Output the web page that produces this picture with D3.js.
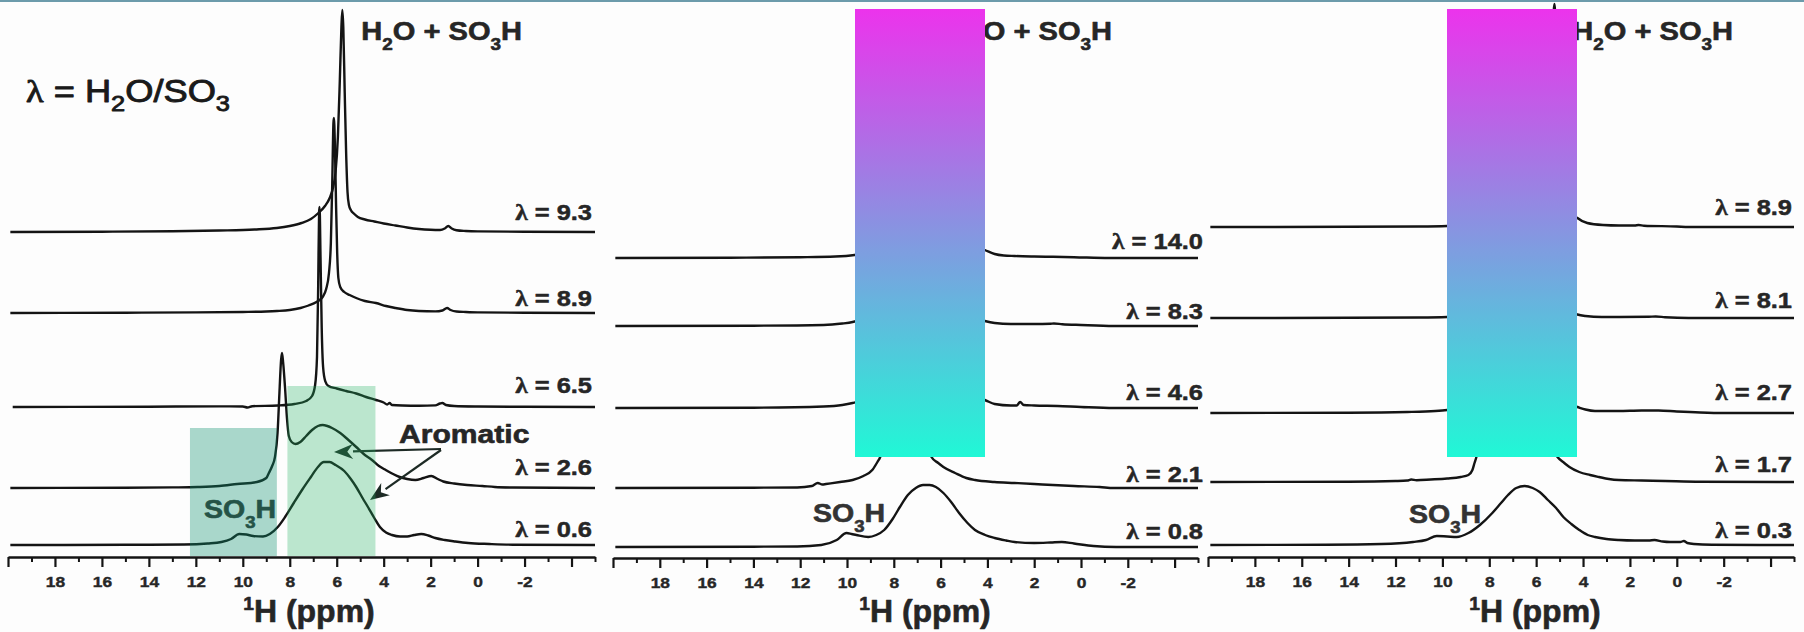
<!DOCTYPE html>
<html><head><meta charset="utf-8">
<script src="https://cdn.jsdelivr.net/npm/d3@7"></script>
<style>html,body{margin:0;padding:0;background:#fff;}svg{display:block}</style>
</head><body><svg id="c" width="1804" height="632"></svg>
<script>
// ================= DATA =================
const majorTicks = [20,18,16,14,12,10,8,6,4,2,0,-2,-4];
const tickLabels = ["","18","16","14","12","10","8","6","4","2","0","-2",""];
const minorTicks = [19,17,15,13,11,9,7,5,3,1,-1,-3,-5];

// Panel 1 : lambda labels, stacking offsets, spectra [ppm, intensity]
const lambdas1 = ["9.3","8.9","6.5","2.6","0.6"];
const offsets1 = [325,244,150,69,12];
const p1_93 = [[19.9,0],[16,0.3],[13,0.8],[11,1.5],[9.5,2.5],[8.55,4],[8,6],[7.5,9],[7.1,13],[6.78,19],[6.5,26],[6.3,34],[6.15,45],[6.05,60],[5.95,95],[5.87,150],[5.8,205],[5.76,222],[5.72,205],[5.66,140],[5.6,80],[5.54,40],[5.48,27],[5.4,22],[5.25,18],[5.1,15],[4.8,12.5],[4.4,10.5],[4,8.5],[3.5,6.5],[3,4.5],[2.5,3],[2,2.2],[1.6,2],[1.4,3.5],[1.25,6],[1.1,3.5],[0.9,1.8],[0.5,1],[0,0.6],[-2,0.3],[-5,0]];
const p1_89 = [[19.9,0],[15,0.3],[12,0.6],[10,1],[9,1.5],[8.55,2],[8,3],[7.54,5],[7.2,7.5],[6.86,11],[6.6,16],[6.45,24],[6.33,40],[6.25,70],[6.19,130],[6.14,190],[6.12,195],[6.08,170],[6.03,110],[5.98,60],[5.93,35],[5.85,26],[5.68,21],[5.45,18],[5.17,15],[4.8,12],[4.33,10],[3.9,7],[3.49,5],[3,3],[2.5,2],[1.8,1.6],[1.5,2.5],[1.3,5],[1.15,3],[0.9,1.5],[0.5,1],[0,0.6],[-2,0.3],[-5,0]];
const p1_65 = [[19.8,0],[14,0.3],[11,0.6],[10,0.5],[9.8,-0.5],[9.6,0.8],[8.5,1.5],[7.8,3],[7.3,6],[7.05,11],[6.92,22],[6.84,50],[6.79,120],[6.75,195],[6.73,200],[6.69,150],[6.64,80],[6.58,40],[6.49,26],[6.35,21],[6,18.5],[5.6,16],[5.17,13.5],[4.75,10],[4.33,7],[4,4.5],[3.85,2.5],[3.75,4],[3.65,2],[3.2,1.5],[2.5,1.3],[1.8,1.6],[1.6,3.5],[1.5,4],[1.35,2],[1,1],[0,0.5],[-2,0.2],[-5,0]];
const p1_26 = [[19.9,0],[15,0.3],[13,0.6],[11.92,1],[11,2],[10.24,4],[9.4,6],[9,10],[8.89,15],[8.75,22],[8.63,31],[8.52,55],[8.44,95],[8.37,128],[8.33,135],[8.28,125],[8.2,100],[8.12,70],[8.04,52],[7.92,46],[7.75,44],[7.55,46],[7.3,52],[7.05,58],[6.8,62],[6.6,63],[6.4,62],[6.2,60],[5.85,55],[5.5,48],[5.17,41],[4.85,34],[4.5,28],[4.2,22],[3.91,18],[3.6,14],[3.32,11],[3,9],[2.65,8],[2.3,10],[1.97,12],[1.7,9],[1.46,6.5],[1,4.5],[0.45,3],[-0.2,2],[-0.73,1],[-1.5,0.5],[-5,0]];
const p1_06 = [[19.9,0],[15,0.2],[12.5,0.5],[11.5,1.5],[10.91,3],[10.5,6],[10.15,11],[9.85,10.5],[9.56,9],[9.14,8.5],[8.85,11],[8.51,18],[8.2,28],[7.83,42],[7.45,56],[7.1,68],[6.8,78],[6.55,83],[6.3,83],[6.05,80],[5.68,74],[5.4,66],[5.17,58],[4.9,47],[4.67,38],[4.4,27],[4.16,18],[3.9,12.5],[3.65,10],[3.3,8.5],[3,8.5],[2.7,10],[2.4,11],[2.1,9.5],[1.8,7],[1.4,5],[0.95,3.5],[0.4,2],[-0.5,1],[-1.5,0.3],[-5,0]];

// Panel 2
const lambdas2 = ["14.0","8.3","4.6","2.1","0.8"];
const offsets2 = [300,232,150,70,11];
const p2_140 = [[19.9,0],[15,0.3],[12,0.8],[10.5,1.5],[9.68,3],[9.2,5],[8.5,9],[7.8,20],[7.2,60],[6.8,150],[6.5,220],[6.2,150],[5.8,60],[5.2,25],[4.6,12],[4.11,8],[3.69,4],[3.3,2.5],[2.84,2],[2,1.5],[1.2,1.2],[0.3,0.8],[-1.2,0],[-5,0]];
const p2_83 = [[19.9,0],[14,0.3],[11,1],[10.2,2.5],[9.76,4],[9.3,7],[8.5,15],[7.5,60],[7,160],[6.7,200],[6.4,150],[5.8,40],[5,15],[4.4,7],[4.11,5],[3.69,3],[3,2],[2,2],[1.3,2.3],[1.16,2.5],[0.8,1.8],[0,1],[-1.4,0],[-5,0]];
const p2_46 = [[19.9,0],[14,0.3],[11,1.5],[10.2,3],[9.76,5],[9.2,9],[8.5,20],[7.8,70],[7.4,200],[7.2,260],[7,200],[6.5,70],[5.6,25],[4.8,12],[4.11,8],[3.69,4],[3,2.5],[2.75,2.5],[2.6,6],[2.45,3],[2,2.5],[1,2],[0,1],[-1.4,0],[-5,0]];
const p2_21 = [[19.9,0],[14,0.3],[12.13,0.5],[11.5,2],[11.25,5],[11.05,3.5],[10.9,4],[10.3,6],[9.76,8],[9.3,12],[8.92,18],[8.7,26],[8.58,31],[8.3,60],[8,120],[7.6,200],[7.3,180],[7,100],[6.6,50],[6.39,31],[6.1,25],[5.88,21],[5.38,15],[4.9,10],[4.53,8],[3.7,6],[2.84,5],[2,4],[1.2,3],[0.3,2],[-0.8,1],[-1.4,0],[-5,0]];
const p2_08 = [[19.9,0],[14,0.3],[12.13,0.5],[11.1,2],[10.44,7],[10.02,14],[9.8,13],[9.6,12],[9.09,10],[8.75,12],[8.41,17],[8.05,28],[7.74,40],[7.4,52],[7.06,59],[6.75,62],[6.47,62],[6.2,60],[5.88,54],[5.55,45],[5.21,34],[4.85,24],[4.53,17],[4.1,12],[3.69,9],[3.2,6.5],[2.84,5],[2,4],[1.3,4.5],[0.82,5],[0.3,3.5],[-0.53,1],[-1.5,0],[-5,0]];

// Panel 3
const lambdas3 = ["8.9","8.1","2.7","1.7","0.3"];
const offsets3 = [330,239,144,75,12];
const p3_89 = [[19.9,0],[14,0.2],[11,0.5],[9.8,1],[8.5,3],[7,8],[6.2,20],[5.7,50],[5.45,110],[5.3,190],[5.22,223],[5.15,190],[5,90],[4.8,35],[4.5,15],[4.24,9],[3.82,4],[3.15,2],[2.47,1.5],[1.8,1.5],[1.63,2],[1.4,1.3],[0,0.5],[-0.5,0],[-5,0]];
const p3_81 = [[19.9,0],[14,0.2],[11,0.5],[9.8,1],[9,3],[8,10],[7,80],[6.5,150],[6,80],[5,15],[4.24,3.5],[3.9,2],[3.2,1],[1.2,1.2],[0.9,1.5],[0.5,0.8],[-0.5,0],[-5,0]];
const p3_27 = [[19.9,0],[14,0.3],[11.5,1],[10.3,2],[9.8,3],[9,6],[8,15],[7,90],[6.5,130],[6,80],[5,15],[4.5,8],[4.24,6],[3.9,3.5],[3.49,2],[2.5,2],[1.5,2.5],[0.78,2.5],[0,1.5],[-1,0.5],[-2,0],[-5,0]];
const p3_17 = [[19.9,0],[14,0.3],[12,1],[11.5,1.5],[11.33,2.5],[11.1,1.8],[10.5,2.5],[9.8,3.5],[9.22,5],[8.89,7],[8.72,12],[8.63,19],[8.55,25],[8.2,70],[7.5,160],[7,180],[6.3,120],[5.6,50],[5.09,25],[4.8,19],[4.58,15],[4.16,10],[3.7,7],[3.32,5],[2.9,3],[2.47,2],[1.5,1.5],[0.5,1],[-1,0.3],[-5,0]];
const p3_03 = [[19.9,0],[15,0.3],[12.6,1],[11.25,3],[10.7,5],[10.24,9],[9.8,8.5],[9.39,8],[8.89,12],[8.4,20],[7.87,32],[7.5,42],[7.2,50],[6.85,57],[6.49,59],[6.15,57],[5.85,53],[5.5,45],[5.15,37],[4.84,28],[4.5,21],[4.16,15],[3.8,10],[3.49,8],[3,6],[2.47,5],[1.8,4.5],[1.2,4.5],[0.95,5],[0.6,3.5],[0.28,3],[-0.15,3],[-0.3,4],[-0.45,2],[-0.73,1],[-1.5,0.3],[-5,0]];

// highlighted ppm regions in panel 1 (SO3H, aromatic)
const highlightPpm = [[12.25,8.55],[8.1,4.35]];

// ================= LAYOUT =================
const SANS = "'Liberation Sans', Arial, sans-serif";
const SERIF = "'Liberation Serif', 'Times New Roman', serif";
const INK = "#141414";
const panels = [
  {x0:8, x1:595, axisY:557, lambdas:lambdas1, offsets:offsets1, spectra:[p1_93,p1_89,p1_65,p1_26,p1_06],
   labelX:592, labelGap:[12,7,14,13,8], peakLabelX:522, so3hX:204, so3hY:518, titleX:309, rect:null},
  {x0:613, x1:1198, axisY:558, lambdas:lambdas2, offsets:offsets2, spectra:[p2_140,p2_83,p2_46,p2_21,p2_08],
   labelX:1203, labelGap:[9,7,8,6,8], peakLabelX:1112, so3hX:813, so3hY:522, titleX:925, rect:[855,985]},
  {x0:1208, x1:1794, axisY:557, lambdas:lambdas3, offsets:offsets3, spectra:[p3_89,p3_81,p3_27,p3_17,p3_03],
   labelX:1792, labelGap:[12,10,13,10,7], peakLabelX:1733, so3hX:1409, so3hY:523, titleX:1535, rect:[1447,1577]}
];

const svg = d3.select("#c");
svg.append("rect").attr("width",1804).attr("height",632).attr("fill","#fdfdfd");
svg.append("line").attr("x1",0).attr("x2",1804).attr("y1",1).attr("y2",1).attr("stroke","#6c9bab").attr("stroke-width",2);

const defs = svg.append("defs");
const grad = defs.append("linearGradient").attr("id","gr").attr("x1",0).attr("y1",0).attr("x2",0).attr("y2",1);
grad.append("stop").attr("offset","0%").attr("stop-color","#ec33ec");
grad.append("stop").attr("offset","100%").attr("stop-color","#20f8d6");

function rich(g, x, y, segs, o) {
  const grp = g.append("g").attr("transform", `translate(${x},${y}) scale(${o.sx||1},1)`);
  const fill = o.fill||"#222";
  const t = grp.append("text").attr("text-anchor", o.anchor||"start")
    .attr("font-family", SANS).attr("font-size", o.size)
    .attr("font-weight", o.weight||"bold").attr("fill", fill)
    .attr("stroke", fill).attr("stroke-width", o.sw==null ? 0.5 : o.sw).attr("stroke-linejoin","round");
  let shift = 0;
  segs.forEach(s => {
    const ts = t.append("tspan").text(s.t);
    let target = 0;
    if (s.sub) { ts.attr("font-size", o.size*(o.subScale||0.65)); target = o.size*(o.subShift||0.36); }
    if (s.sup) { ts.attr("font-size", o.size*0.6); target = -o.size*0.36; }
    if (s.serif) ts.attr("font-family", SERIF);
    if (target - shift !== 0) ts.attr("dy", target - shift);
    shift = target;
  });
  return grp;
}

panels.forEach((P, pi) => {
  const g = svg.append("g");
  const x = d3.scaleLinear().domain([20,-5]).range([P.x0, P.x1]);
  const y = d3.scaleLinear().domain([0,560]).range([P.axisY, P.axisY-560]);

  // spectra
  P.spectra.forEach((s, i) => {
    const off = P.offsets[i];
    const line = d3.line().x(d => x(d[0])).y(d => y(off + d[1])).curve(d3.curveMonotoneX);
    g.append("path").attr("d", line(s)).attr("fill","none").attr("stroke",INK)
      .attr("stroke-width",2.4).attr("stroke-linejoin","round");
  });

  // lambda labels
  P.lambdas.forEach((l, i) => {
    rich(g, P.labelX, y(P.offsets[i]) - P.labelGap[i], [{t:"λ",serif:true},{t:" = "+l}],
      {size:22.5, sx:1.13, anchor:"end", fill:"#262626", sw:0.5});
  });

  // peak label
  rich(g, P.peakLabelX, 40, [{t:"H"},{t:"2",sub:true},{t:"O + SO"},{t:"3",sub:true},{t:"H"}],
    {size:25.5, sx:1.14, anchor:"end", fill:"#262626", subShift:0.38, sw:0.6});

  // SO3H label
  rich(g, P.so3hX, P.so3hY, [{t:"SO"},{t:"3",sub:true},{t:"H"}],
    {size:25.5, sx:1.12, fill:"#333", subShift:0.4, sw:0.6});

  // axes
  const axMaj = d3.axisBottom(x).tickValues(majorTicks).tickSize(10).tickSizeOuter(0)
    .tickFormat((d,i) => tickLabels[i]);
  const ga = g.append("g").attr("transform", `translate(0,${P.axisY})`).call(axMaj);
  ga.select(".domain").attr("stroke",INK).attr("stroke-width",2.6);
  ga.selectAll(".tick line").attr("stroke",INK).attr("stroke-width",2.2);
  ga.selectAll(".tick text").attr("y",30).attr("dy",0).attr("fill","#262626")
    .attr("stroke","#262626").attr("stroke-width",0.4)
    .attr("font-family",SANS).attr("font-size",15.5).attr("font-weight","bold")
    .attr("transform","scale(1.12,1)");
  const axMin = d3.axisBottom(x).tickValues(minorTicks).tickSize(5).tickSizeOuter(0).tickFormat("");
  const gm = g.append("g").attr("transform", `translate(0,${P.axisY})`).call(axMin);
  gm.select(".domain").remove();
  gm.selectAll(".tick line").attr("stroke",INK).attr("stroke-width",2);

  // axis title
  rich(g, P.titleX, 622, [{t:"1",sup:true},{t:"H (ppm)"}], {size:32, sx:1.0, anchor:"middle", fill:"#262626", sw:0.6});

  if (pi === 0) {
    // title
    rich(g, 26, 102, [{t:"λ",serif:true},{t:" = H"},{t:"2",sub:true},{t:"O/SO"},{t:"3",sub:true}],
      {size:31, sx:1.17, weight:"normal", fill:"#1a1a1a", subScale:0.7, subShift:0.28, sw:0.9});
    // Aromatic label and arrows
    rich(g, 399, 443, [{t:"Aromatic"}], {size:25.5, sx:1.18, fill:"#262626", sw:0.6});
    const arrows = [[[441,449],[334,452]],[[441,450],[370,500]]];
    arrows.forEach(([a,b]) => {
      const ang = Math.atan2(b[1]-a[1], b[0]-a[0]);
      const L = 19, W = 7.5;
      const bx = b[0]-L*Math.cos(ang), by = b[1]-L*Math.sin(ang);
      g.append("line").attr("x1",a[0]).attr("y1",a[1]).attr("x2",bx).attr("y2",by)
        .attr("stroke","#1d2a25").attr("stroke-width",2.2);
      const p1 = [bx - W*Math.sin(ang), by + W*Math.cos(ang)];
      const p2 = [bx + W*Math.sin(ang), by - W*Math.cos(ang)];
      const notch = [b[0]-L*0.7*Math.cos(ang), b[1]-L*0.7*Math.sin(ang)];
      g.append("path").attr("d", `M${b[0]},${b[1]}L${p1[0]},${p1[1]}L${notch[0]},${notch[1]}L${p2[0]},${p2[1]}Z`)
        .attr("fill","#1d2a25");
    });
    // highlight overlays
    const tops = [129,171];
    const cols = [["rgb(12,144,109)",0.35],["rgb(38,178,98)",0.30]];
    highlightPpm.forEach((r, i) => {
      g.append("rect").attr("x", x(r[0])).attr("width", x(r[1]) - x(r[0]))
        .attr("y", y(tops[i])).attr("height", y(0) - y(tops[i]) - 1)
        .attr("fill", cols[i][0]).attr("fill-opacity", cols[i][1]);
    });
  }

  if (P.rect) {
    g.append("rect").attr("x", P.rect[0]).attr("width", P.rect[1]-P.rect[0])
      .attr("y", 9).attr("height", 448).attr("fill","url(#gr)");
  }
});
</script></body></html>
